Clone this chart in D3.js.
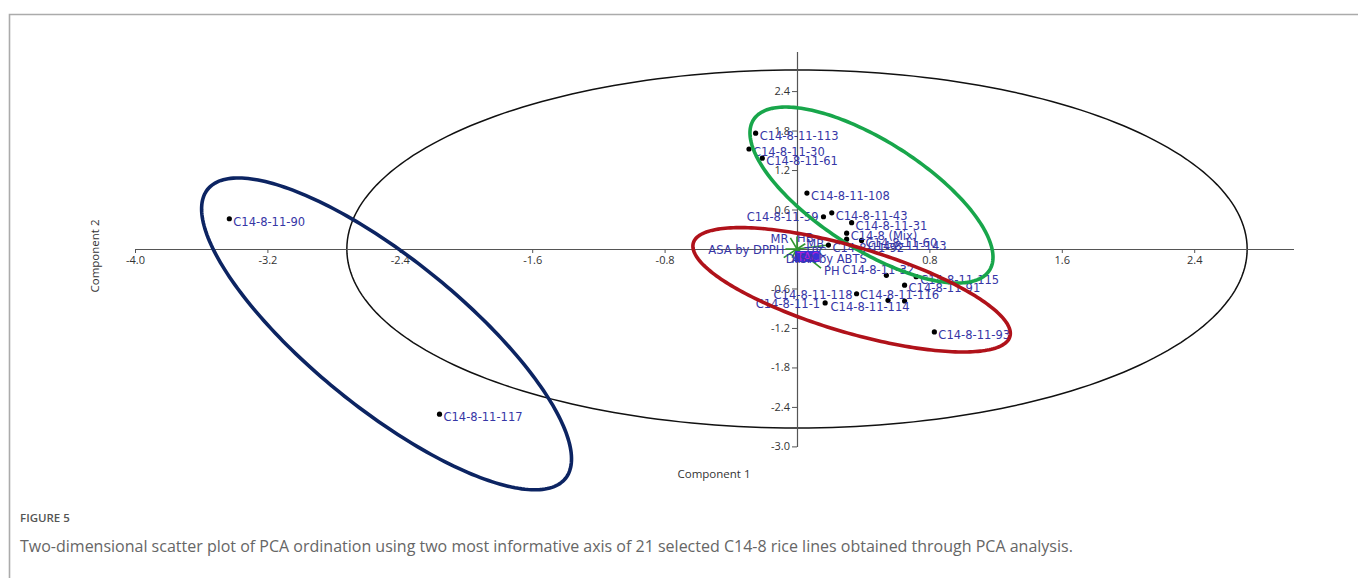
<!DOCTYPE html>
<html>
<head>
<meta charset="utf-8">
<script src="https://cdn.jsdelivr.net/npm/d3@7"></script>
<style>
  html, body { margin: 0; padding: 0; background: #fff; }
  svg { display: block; }
</style>
</head>
<body>
<svg id="chart" width="1358" height="578"></svg>
<script>
// PCA scores of the rice lines on the first two components
const lineNames = ["C14-8-11-90", "C14-8-11-117", "C14-8-11-113", "C14-8-11-30", "C14-8-11-61",
  "C14-8-11-108", "C14-8-11-43", "C14-8-11-59", "C14-8-11-31", "C14-8 (Mix)", "C14-8-11-60",
  "C14-8-11-143", "C14-8-11-92", "C14-8-11-32", "C14-8-11-115", "C14-8-11-91", "C14-8-11-116",
  "C14-8-11-118", "C14-8-11-1", "C14-8-11-114", "C14-8-11-93"];
const pc1Scores = [-3.43, -2.16, -0.25, -0.29, -0.21, 0.06, 0.21, 0.16, 0.33, 0.30, 0.39,
  0.30, 0.19, 0.54, 0.72, 0.65, 0.55, 0.36, 0.17, 0.65, 0.83];
const pc2Scores = [0.46, -2.51, 1.76, 1.52, 1.38, 0.85, 0.55, 0.49, 0.40, 0.24, 0.13,
  0.15, 0.06, -0.40, -0.42, -0.55, -0.78, -0.68, -0.82, -0.79, -1.26];

// Trait loadings drawn as biplot vectors
const traitNames = ["MR", "HB", "MB", "TPC", "ASA by DPPH", "DPPH", "TAC", "ASA by ABTS", "PH"];
const traitPC1 = [-0.04, 0.00, 0.05, 0.19, -0.07, -0.08, 0.00, -0.03, 0.145];
const traitPC2 = [0.17, 0.19, 0.08, 0.06, 0.00, -0.13, -0.06, -0.13, -0.29];

// Axis ticks
const xTicks = [-4.0, -3.2, -2.4, -1.6, -0.8, 0.8, 1.6, 2.4];
const xTickLabels = ["-4.0", "-3.2", "-2.4", "-1.6", "-0.8", "0.8", "1.6", "2.4"];
const yTicks = [2.4, 1.8, 1.2, 0.6, -0.6, -1.2, -1.8, -2.4, -3.0];
const yTickLabels = ["2.4", "1.8", "1.2", "0.6", "-0.6", "-1.2", "-1.8", "-2.4", "-3.0"];

// Ellipses: overall 95% ellipse and the three groups (centre, semi-axes, rotation in degrees)
const ellipseNames = ["all", "group A", "group B", "group C"];
const ellipseCx = [0, -2.48, 0.45, 0.33];
const ellipseCy = [0, -1.29, 0.82, -0.62];
const ellipseR1 = [2.72, 2.545, 1.448, 1.242];
const ellipseR2 = [2.72, 0.622, 0.480, 0.520];
const ellipseAngle = [0, -67.9, -66.0, -44.4];

const W = 1358, H = 578;
const svg = d3.select("#chart");

// page frame
svg.append("path")
  .attr("d", `M9.5,${H} V14.5 H${W}`)
  .attr("fill", "none").attr("stroke", "#ababab").attr("stroke-width", 1.6);

const x = d3.scaleLinear().domain([-4, 3]).range([135, 1293.5]);
const y = d3.scaleLinear().domain([-3, 3]).range([446.4, 51.6]);

const ellipseStyle = [
  { stroke: "#111111", width: 1.5 },
  { stroke: "#0c2462", width: 3.6 },
  { stroke: "#18a64b", width: 3.6 },
  { stroke: "#b0121a", width: 3.6 }
];

function ellipsePath(i) {
  const a = ellipseAngle[i] * Math.PI / 180;
  const pts = d3.range(240).map(k => {
    const t = 2 * Math.PI * k / 240;
    const u = ellipseR1[i] * Math.cos(t), v = ellipseR2[i] * Math.sin(t);
    return [x(ellipseCx[i] + u * Math.cos(a) - v * Math.sin(a)),
            y(ellipseCy[i] + u * Math.sin(a) + v * Math.cos(a))];
  });
  return d3.line().curve(d3.curveLinearClosed)(pts);
}

// overall ellipse below everything else
svg.append("path")
  .attr("d", ellipsePath(0))
  .attr("fill", "none")
  .attr("stroke", ellipseStyle[0].stroke)
  .attr("stroke-width", ellipseStyle[0].width);

// axes crossing at the origin
const axisFont = "'Open Sans', sans-serif";
const gx = svg.append("g")
  .attr("transform", `translate(0,${y(0)})`)
  .call(d3.axisBottom(x).tickValues(xTicks).tickFormat((d, i) => xTickLabels[i])
    .tickSize(4).tickSizeOuter(0).tickPadding(3));
const gy = svg.append("g")
  .attr("transform", `translate(${x(0)},0)`)
  .call(d3.axisLeft(y).tickValues(yTicks).tickFormat((d, i) => yTickLabels[i])
    .tickSize(5).tickSizeOuter(0).tickPadding(2));
[gx, gy].forEach(g => {
  g.select(".domain").attr("stroke", "#555").attr("stroke-width", 1.2);
  g.selectAll(".tick line").attr("stroke", "#555");
  g.selectAll(".tick text").attr("fill", "#333").style("font-family", axisFont).style("font-size", "11px");
});

svg.append("text")
  .attr("x", 714).attr("y", 474).attr("dy", "0.35em")
  .attr("text-anchor", "middle")
  .style("font-family", axisFont).style("font-size", "11.5px").attr("fill", "#333")
  .text("Component 1");
svg.append("text")
  .attr("transform", "translate(95,256) rotate(-90)")
  .attr("dy", "0.35em")
  .attr("text-anchor", "middle")
  .style("font-family", axisFont).style("font-size", "11.5px").attr("fill", "#333")
  .text("Component 2");

// trait vectors
const labelFont = "'DejaVu Sans', sans-serif";
const labelColor = "#3636a6";
const traits = traitNames.map((n, i) => ({ name: n, px: traitPC1[i], py: traitPC2[i] }));
svg.append("g").selectAll("line").data(traits).join("line")
  .attr("x1", x(0)).attr("y1", y(0))
  .attr("x2", d => x(d.px)).attr("y2", d => y(d.py))
  .attr("stroke", "#2f962f").attr("stroke-width", 1.6);

const traitPlacement = {
  "MR": { dx: -2, dy: 1, anchor: "end" },
  "HB": { dx: 0, dy: 1, anchor: "start" },
  "MB": { dx: 1, dy: 0, anchor: "start" },
  "TPC": { dx: -2, dy: 7, anchor: "end" },
  "ASA by DPPH": { dx: -1, dy: 1, anchor: "end" },
  "DPPH": { dx: 2, dy: 1, anchor: "start" },
  "TAC": { dx: 0, dy: 4, anchor: "start" },
  "ASA by ABTS": { dx: 0, dy: 1, anchor: "start" },
  "PH": { dx: 3, dy: 3, anchor: "start" }
};
const traitLabels = svg.append("g");
traits.forEach(d => {
  const p = traitPlacement[d.name];
  const t = traitLabels.append("text")
    .attr("x", x(d.px) + p.dx).attr("y", y(d.py) + p.dy).attr("dy", "0.35em")
    .attr("text-anchor", p.anchor)
    .style("font-family", labelFont).style("font-size", "11.5px")
    .attr("fill", labelColor)
    .text(d.name);
  if (d.name === "TAC") {
    // highlighted trait: label on a filled box
    const b = t.node().getBBox();
    traitLabels.insert("rect", () => t.node())
      .attr("x", b.x - 1).attr("y", b.y + 1).attr("width", b.width + 2).attr("height", b.height - 3)
      .attr("fill", "#3a2fd6");
    t.attr("fill", "#b51fd0");
  }
});

// sample points and their labels
const samples = lineNames.map((n, i) => ({ name: n, px: pc1Scores[i], py: pc2Scores[i] }));
svg.append("g").selectAll("circle").data(samples).join("circle")
  .attr("cx", d => x(d.px)).attr("cy", d => y(d.py)).attr("r", 2.6)
  .attr("fill", "#000");

const labelPlacement = {
  "C14-8-11-59": { dx: -5, dy: 0, anchor: "end" },
  "C14-8-11-143": { dx: 21, dy: 7, anchor: "start" },
  "C14-8-11-32": { dx: -44, dy: -5, anchor: "start" },
  "C14-8-11-118": { dx: -4, dy: 1, anchor: "end" },
  "C14-8-11-116": { dx: -28, dy: -5, anchor: "start" },
  "C14-8-11-1": { dx: -5, dy: 1, anchor: "end" },
  "C14-8-11-114": { dx: -74, dy: 6, anchor: "start" }
};
svg.append("g").selectAll("text").data(samples).join("text")
  .attr("x", d => x(d.px) + (labelPlacement[d.name] || { dx: 4 }).dx)
  .attr("y", d => y(d.py) + (labelPlacement[d.name] || { dy: 3 }).dy)
  .attr("dy", "0.35em")
  .attr("text-anchor", d => (labelPlacement[d.name] || { anchor: "start" }).anchor)
  .style("font-family", labelFont).style("font-size", "11.5px")
  .attr("fill", labelColor)
  .text(d => d.name);

// group ellipses on top
for (let i = 1; i < ellipseNames.length; i++) {
  svg.append("path")
    .attr("d", ellipsePath(i))
    .attr("fill", "none")
    .attr("stroke", ellipseStyle[i].stroke)
    .attr("stroke-width", ellipseStyle[i].width);
}

// caption
const capFont = "'Open Sans', sans-serif";
svg.append("text")
  .attr("x", 20).attr("y", 518).attr("dy", "0.35em")
  .style("font-family", capFont).style("font-size", "11.5px").style("font-weight", 600)
  .attr("fill", "#555")
  .text("FIGURE 5");
svg.append("text")
  .attr("x", 20).attr("y", 546).attr("dy", "0.35em")
  .style("font-family", capFont).style("font-size", "16px")
  .attr("fill", "#666")
  .text("Two-dimensional scatter plot of PCA ordination using two most informative axis of 21 selected C14-8 rice lines obtained through PCA analysis.");
</script>
</body>
</html>
